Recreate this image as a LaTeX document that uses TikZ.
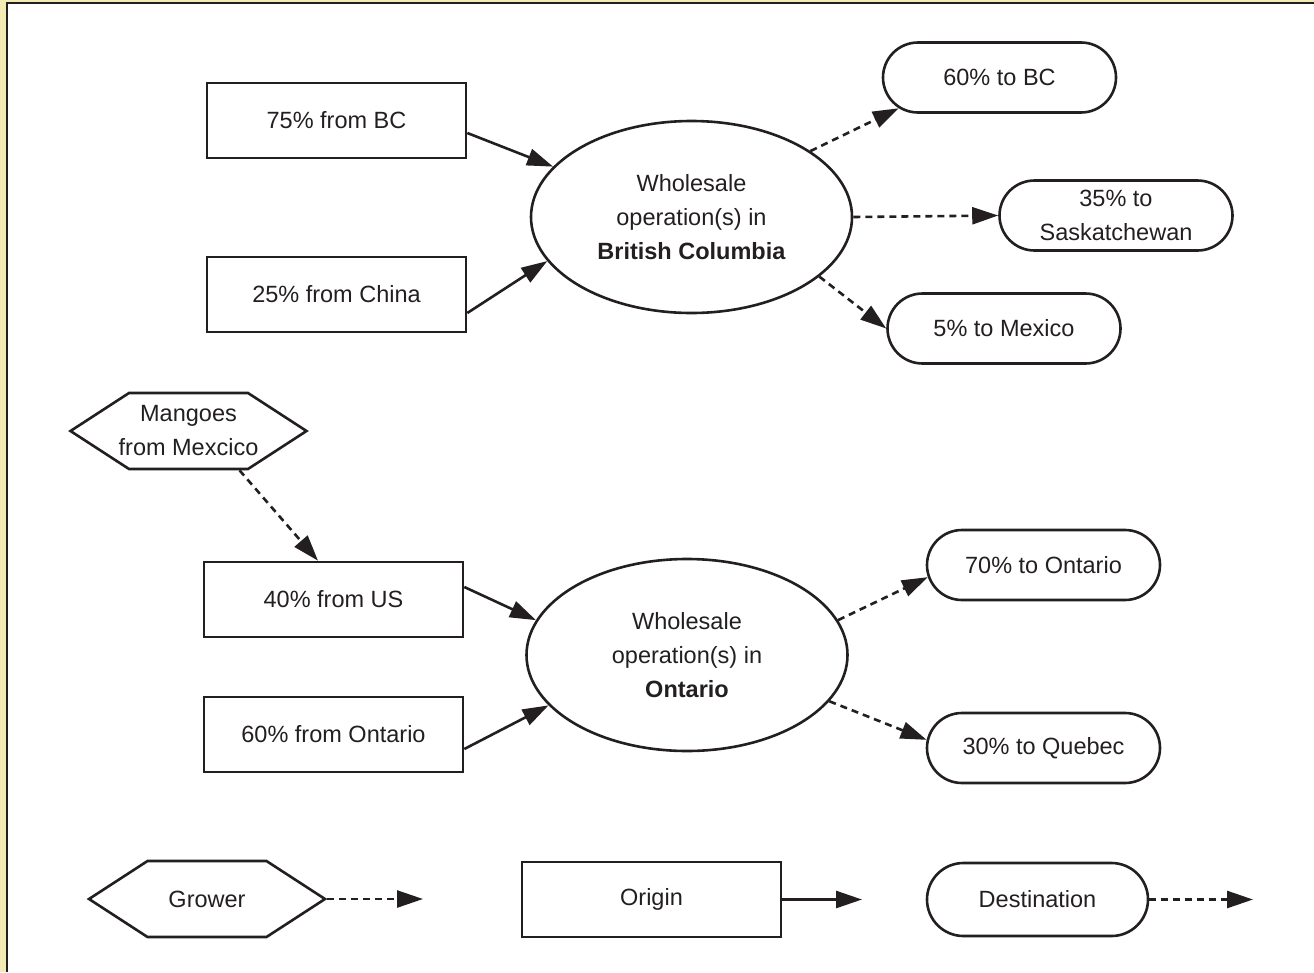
\documentclass[tikz,border=0pt]{standalone}
\usepackage{fontspec}
\setmainfont{Liberation Sans}
\usetikzlibrary{arrows.meta,shapes.misc,shapes.symbols,shapes.geometric}
\definecolor{frameyellow}{RGB}{242,236,180}
\definecolor{ink}{RGB}{35,31,32}
\tikzset{
  origin/.style={draw=ink, line width=2.6pt, rectangle, minimum width=259pt, minimum height=75pt, inner sep=0pt},
  whole/.style={draw=ink, line width=2.6pt, ellipse, minimum width=321pt, minimum height=192pt, align=center, inner sep=0pt},
  dest/.style={draw=ink, line width=2.6pt, rounded rectangle, minimum width=233pt, minimum height=70pt, align=center, inner sep=0pt},
  grower/.style={draw=ink, line width=2.6pt, signal, signal to=west and east, signal pointer angle=66, minimum width=236pt, minimum height=76pt, align=center, inner sep=0pt},
  flow/.style={-{Triangle[length=26pt,width=17pt]}, line width=2.6pt, draw=ink},
  ship/.style={flow, dash pattern=on 7pt off 5pt},
}
\begin{document}
\begin{tikzpicture}[x=1pt,y=-1pt,font=\fontsize{23.5}{34}\selectfont,text=ink]
        \useasboundingbox (0,0) rectangle (1314,972);
        % frame
        \fill[frameyellow] (0,0) rectangle (6,972);
        \fill[frameyellow] (0,0) rectangle (1314,1.5);
        \draw[ink, line width=2pt] (6.5,972) -- (6.5,2.5) -- (1314,2.5);
        % British Columbia
        \node[origin] (frombc) at (336.5,120.5) {75\% from BC};
        \node[origin] (fromchina) at (336.5,294.5) {25\% from China};
        \node[whole] (bcops) at (691.5,217) {Wholesale\\operation(s) in\\\textbf{British Columbia}};
        \node[dest] (tobc) at (999.5,77.5) {60\% to BC};
        \node[dest] (tosask) at (1116,215.5) {35\% to\\Saskatchewan};
        \node[dest] (tomex) at (1004,328.5) {5\% to Mexico};
        \draw[flow] ([yshift=-12.5pt]frombc.east) -- (bcops.160.6);
        \draw[flow] ([yshift=-18.5pt]fromchina.east) -- (bcops.197.4);
        \draw[ship] (bcops.29.5) -- (tobc.197);
        \draw[ship] (bcops.east) -- (tosask.west);
        \draw[ship] (bcops.335) -- (tomex.west);
        % Ontario
        \node[grower, inner xsep=-10.5pt] (mangoes) at (188.5,431) {Mangoes\\from Mexcico};
        \node[origin] (fromus) at (333.5,599.5) {40\% from US};
        \node[origin] (fromont) at (333.5,734.5) {60\% from Ontario};
        \node[whole] (ontops) at (687,655) {Wholesale\\operation(s) in\\\textbf{Ontario}};
        \node[dest] (toont) at (1043.5,565) {70\% to Ontario};
        \node[dest] (toque) at (1043.5,748) {30\% to Quebec};
        \draw[ship] ([xshift=51pt]mangoes.south) -- ([xshift=-15.5pt]fromus.north);
        \draw[flow] ([yshift=12.5pt]fromus.east) -- (ontops.167.8);
        \draw[flow] ([yshift=-14.5pt]fromont.east) -- (ontops.200.8);
        \draw[ship] (ontops.13.7) -- (toont.186);
        \draw[ship] (ontops.342.8) -- (toque.176);
        % legend
        \node[grower] (leggrow) at (207,899) {Grower};
        \node[origin] (legorig) at (651.5,899.5) {Origin};
        \node[dest, minimum width=221pt, minimum height=73pt] (legdest) at (1037.5,899.5) {Destination};
        \coordinate (growend) at (423,899);
        \coordinate (origend) at (862,899.5);
        \coordinate (destend) at (1253,899.5);
        \draw[ship] (leggrow.east) -- (growend);
        \draw[flow] (legorig.east) -- (origend);
        \draw[ship] (legdest.east) -- (destend);
\end{tikzpicture}
\end{document}
